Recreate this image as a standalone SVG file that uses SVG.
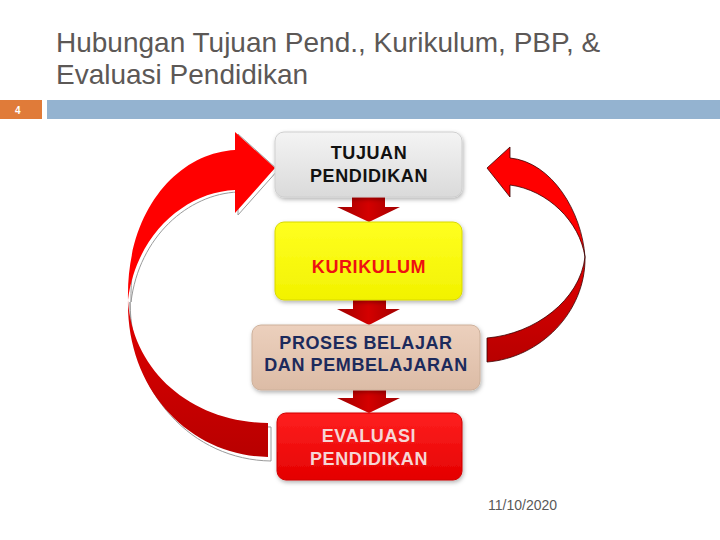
<svg xmlns="http://www.w3.org/2000/svg" width="720" height="540" viewBox="0 0 720 540">
<defs>
<style>
.title{font-family:"Liberation Sans",Arial,sans-serif;font-size:28px;fill:#5c5856}
.lbl{font-family:"Liberation Sans",Arial,sans-serif;font-weight:bold;font-size:18px;text-anchor:middle;letter-spacing:0.6px}
</style>
<linearGradient id="gBox1" x1="0" y1="0" x2="0" y2="1"><stop offset="0" stop-color="#f4f4f4"/><stop offset="1" stop-color="#dadada"/></linearGradient>
<linearGradient id="gBox2" x1="0" y1="0" x2="0" y2="1"><stop offset="0" stop-color="#ffff20"/><stop offset="1" stop-color="#f2f200"/></linearGradient>
<linearGradient id="gBox3" x1="0" y1="0" x2="0" y2="1"><stop offset="0" stop-color="#ecd0bd"/><stop offset="1" stop-color="#dcbca6"/></linearGradient>
<linearGradient id="gBox4" x1="0" y1="0" x2="0" y2="1"><stop offset="0" stop-color="#ff2020"/><stop offset="1" stop-color="#e40000"/></linearGradient>
<linearGradient id="gDown" x1="0" y1="0" x2="1" y2="0"><stop offset="0" stop-color="#a00000"/><stop offset="0.5" stop-color="#d40000"/><stop offset="1" stop-color="#a00000"/></linearGradient>
<linearGradient id="gLow" x1="0" y1="0" x2="0" y2="1"><stop offset="0" stop-color="#e00000"/><stop offset="1" stop-color="#b80000"/></linearGradient>
<filter id="sh" x="-10%" y="-10%" width="120%" height="130%"><feDropShadow dx="1" dy="2" stdDeviation="2" flood-color="#000" flood-opacity="0.3"/></filter>
</defs>
<rect width="720" height="540" fill="#ffffff"/>
<g id="title">
<text class="title" x="56" y="52">Hubungan Tujuan Pend., Kurikulum, PBP, &amp;</text>
<text class="title" x="56" y="84">Evaluasi Pendidikan</text>
</g>
<g id="header-bar">
<rect x="0" y="100" width="42" height="19" fill="#e07b39"/>
<text x="15" y="114" font-family="'Liberation Sans',Arial,sans-serif" font-size="10" font-weight="bold" fill="#ffffff">4</text>
<rect x="47" y="100" width="673" height="19" fill="#94b3d0"/>
</g>
<g id="connectors">
<g id="down1"><path d="M352,197 H385 V207 H400 L369,222 L337,207 H352 Z" fill="url(#gDown)"/></g>
<g id="down2"><path d="M353,300 H386 V309 H400 L369,325 L337,309 H353 Z" fill="url(#gDown)"/></g>
<g id="down3"><path d="M353,390 H386 V398 H400 L369,413 L337,398 H353 Z" fill="url(#gDown)"/></g>
<g id="left-loop">
<path d="M268,459 C190,458 126,392 127,300 C128,393 194,424 268,425 Z" fill="none" stroke="#9a9a9a" stroke-width="1" transform="translate(3,2)"/>
<path d="M268,457 C190,456 126,390 128,300 C132,370 190,422 268,423 Z" fill="url(#gLow)"/>
<path d="M128,300 C126,210 178,153 235,150 V132 L275,168 L235,213 V190 C185,192 136,235 128,300 Z" fill="none" stroke="#9a9a9a" stroke-width="1" transform="translate(3,2)"/>
<path d="M128,300 C126,210 178,153 235,150 V132 L275,168 L235,213 V190 C185,192 136,235 128,300 Z" fill="#ff0000"/>
</g>
<g id="right-loop" stroke="#3a0000" stroke-width="0.8">
<path d="M585,257 C586,312 540,358 487,362 V338 C535,334 580,300 585,257 Z" fill="url(#gLow)"/>
<path d="M585,257 C582,212 552,162 510,158 V147 L487,168 L510,197 V185 C548,190 580,222 585,257 Z" fill="#ff0000"/>
</g>
</g>
<g id="node-tujuan">
<rect x="275" y="132" width="187" height="65" rx="9" fill="url(#gBox1)" stroke="#cfcfcf" filter="url(#sh)"/>
<text class="lbl" x="369" y="159" fill="#111111">TUJUAN</text>
<text class="lbl" x="369" y="182" fill="#111111">PENDIDIKAN</text>
</g>
<g id="node-kurikulum">
<rect x="275" y="222" width="187" height="78" rx="9" fill="url(#gBox2)" stroke="#d8d800" filter="url(#sh)"/>
<text class="lbl" x="369" y="273" fill="#ee1111">KURIKULUM</text>
</g>
<g id="node-proses">
<rect x="252" y="325" width="228" height="65" rx="9" fill="url(#gBox3)" stroke="#cdb09b" filter="url(#sh)"/>
<text class="lbl" x="366" y="349" fill="#1c2a5c" font-size="17">PROSES  BELAJAR</text>
<text class="lbl" x="366" y="371" fill="#1c2a5c" font-size="17">DAN PEMBELAJARAN</text>
</g>
<g id="node-evaluasi">
<rect x="277" y="413" width="185" height="67" rx="9" fill="url(#gBox4)" stroke="#d00000" filter="url(#sh)"/>
<text class="lbl" x="369" y="442" fill="#f6d6d6">EVALUASI</text>
<text class="lbl" x="369" y="465" fill="#f6d6d6">PENDIDIKAN</text>
</g>
<g id="footer">
<text x="488" y="510" font-family="'Liberation Sans',Arial,sans-serif" font-size="14" fill="#595959">11/10/2020</text>
</g>
</svg>
